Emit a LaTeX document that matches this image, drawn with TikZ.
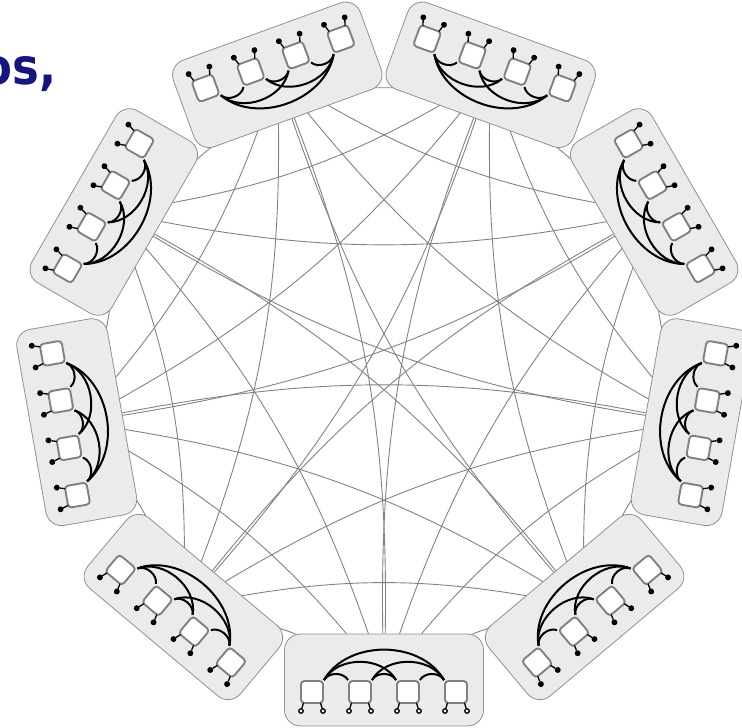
\documentclass[tikz,border=0pt]{standalone}
\usepackage{fontspec}
\newfontfamily\titlefont{DejaVu Sans Condensed}[BoldFont={DejaVu Sans Condensed Bold}]
\usetikzlibrary{calc}
\definecolor{navy}{RGB}{22,22,128}
\definecolor{boxfill}{RGB}{235,235,235}
\definecolor{boxline}{RGB}{145,145,145}
\definecolor{sqline}{RGB}{128,128,128}
\definecolor{edgegray}{RGB}{130,130,130}
\tikzset{
  linkedge/.style={draw=edgegray, line width=0.9pt},
  groupbox/.style={draw=boxline, fill=boxfill, line width=0.8pt, rounded corners=16pt,
    minimum width=199pt, minimum height=92pt, inner sep=0pt, transform shape},
  qubit/.style={draw=sqline, fill=white, line width=1.9pt, rounded corners=3.5pt,
    minimum size=22pt, inner sep=0pt, transform shape},
  coupler/.style={draw=black, line width=2pt},
  pinline/.style={draw=black, line width=1.3pt},
  pindot/.style={circle, draw=black, line width=1.3pt, minimum size=4.5pt,
    inner sep=0pt, transform shape},
}
\begin{document}
\begin{tikzpicture}[x=1pt,y=1pt]
\useasboundingbox (0,0) rectangle (742,728);
\coordinate (O) at (384,360);
\foreach \i in {0,...,8} {
  \coordinate (c\i) at ($(O)+({-90+40*\i}:312)$);
}
\foreach \i in {0,...,8} {
  \foreach \k in {1,...,4} {
    \pgfmathtruncatemacro\j{mod(\i+\k,9)}
    \draw[linkedge] (c\i) to[bend left=12] (c\j);
  }
}
\foreach \i in {0,...,8} {
  \ifnum\i=0 \def\pf{white}\else\def\pf{black}\fi
  \begin{scope}[shift={(c\i)}, rotate={40*\i}]
    \node[groupbox] (g\i) at (0,0) {};
    \foreach \s/\x in {1/-72,2/-24,3/24,4/72} {
      \node[qubit] (q\i-\s) at (\x,-12) {};
      \coordinate (ta\i-\s) at (\x-8.5,-23);
      \coordinate (tb\i-\s) at (\x+8.5,-23);
      \node[pindot, fill=\pf] (pa\i-\s) at (\x-11,-31) {};
      \node[pindot, fill=\pf] (pb\i-\s) at (\x+11,-31) {};
      \draw[pinline] (ta\i-\s) -- (pa\i-\s);
      \draw[pinline] (tb\i-\s) -- (pb\i-\s);
    }
    \foreach \a/\b in {1/2,1/3,1/4,2/3,2/4,3/4} {
      \draw[coupler] (q\i-\a.north east) to[bend left=60] (q\i-\b.north west);
    }
  \end{scope}
}
\node[anchor=base west, inner sep=0pt, text=navy,
  font=\titlefont\bfseries\fontsize{50}{60}\selectfont] (title) at (-18.5,643) {os,};
\end{tikzpicture}
\end{document}
